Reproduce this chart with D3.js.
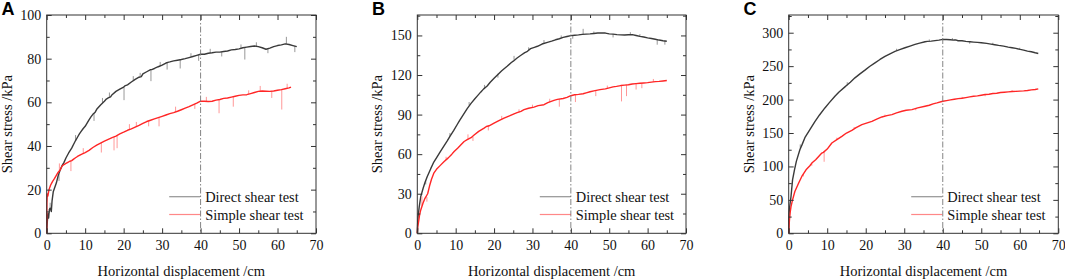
<!DOCTYPE html>
<html><head><meta charset="utf-8">
<script src="https://cdn.jsdelivr.net/npm/d3@7"></script>
<style>body{margin:0;background:#fff} svg{display:block}</style>
</head><body><svg id="c" width="1065" height="279"></svg>
<script>
// ---------- data ----------
const xTicks = [0,10,20,30,40,50,60,70];
const xMinor = [5,15,25,35,45,55,65];
const yTicksA = [0,20,40,60,80,100];
const yTicksB = [0,30,60,90,120,150];
const yTicksC = [0,50,100,150,200,250,300];
const seriesNames = ["Direct shear test","Simple shear test"];
const panelLabels = ["A","B","C"];
const markerX = 40;
const xLabel = "Horizontal displacement /cm";
const yLabel = "Shear stress /kPa";

// main curves: [displacement, stress]
const directA = [[0,0],[0.15,5],[0.3,9],[0.5,7],[0.7,11],[0.9,11.5],[1.2,10],[1.4,15],[1.7,19],[2,20.5],[2.5,23],[3,26.5],[3.5,29],[4,31],[4.5,32.5],[5,34.5],[5.7,36.8],[6.5,39],[7,40.8],[7.5,42.5],[8,44],[8.5,45.5],[9,46.8],[9.5,48],[10,49],[10.5,50.5],[11,52],[11.5,53.3],[12,54.5],[12.6,55.5],[13,56.8],[14,58.8],[15,60.5],[15.5,61.5],[16,62],[16.6,62.5],[17,63.5],[18,65],[19,66],[20,67],[20.3,67.5],[21,68],[22,69.3],[23,70.5],[24,71.5],[24.6,71.8],[25,73],[26,74],[27,75],[27.3,75],[28,75.5],[29,76.3],[30,77],[31,78],[31.5,78.3],[32,78.5],[33,79],[34,79.3],[35,79.6],[36,80],[37,80.5],[38,81],[39,81.5],[40,82],[41,82],[42,82.5],[43,82.7],[44,83],[45,83],[46,83.3],[47,83.5],[48,84],[49,84.2],[50,84.5],[51,85],[52,85.3],[53,85.6],[54,85.8],[55,85.5],[56,85],[57,84.3],[58,84.8],[59,85.5],[60,86],[61,86.3],[62,86.8],[63,86.5],[64,86],[65,85.5]];
const simpleA = [[0,0],[0.05,14],[0.15,18],[0.3,17],[0.6,20],[1,22],[1.5,23.7],[2,25],[2.5,26.5],[3,28],[3.5,29],[4,30.8],[4.5,31.5],[5,32],[5.5,32.5],[6,33],[6.5,33.3],[7,34],[7.5,34.6],[8,35.2],[9,36.2],[10,37],[11,38],[12,39.3],[13,40.4],[14,41.3],[15,42.2],[16,43],[17,43.8],[18,44.5],[19,45.5],[20,46.3],[21,47.2],[22,47.8],[23,48.6],[24,49.4],[25,50.3],[26,51.2],[27,51.8],[28,52.4],[29,53],[30,53.6],[31,54.2],[32,54.8],[33,55.3],[34,55.9],[35,56.6],[36,57.3],[37,58],[38,58.8],[39,59.6],[40,60.5],[41,60.5],[42,60.4],[43,60.5],[44,61],[45,61.3],[46,61.8],[47,62],[48,62.4],[49,62.8],[50,63.2],[51,63.4],[52,63.5],[53,64],[54,64.5],[55,65],[56,65.2],[57,65.1],[58,65],[59,65.2],[60,65.5],[61,65.8],[62,66.2],[63,66.6],[63.5,67]];
const directB = [[0,0],[0.1,8],[0.2,12.7],[0.5,20],[0.9,27.8],[1.5,34],[2,38.5],[2.6,43],[3.5,49],[4.3,54],[5.2,58.2],[6,62],[7,66.5],[7.8,70],[8.5,73.5],[9.5,78],[10.4,82.5],[11,85.5],[12,90],[13,94.5],[14,98.5],[15,102],[15.6,104],[16.5,107],[17.3,109.5],[18.2,111.7],[19,114.5],[20,117.5],[20.8,119.8],[22,123.2],[23.4,126.6],[24.5,129.5],[25,130.5],[26,132.9],[27,135],[28,137],[28.7,138],[29.5,140],[30.5,141],[31.3,141.8],[32.5,143.5],[33.9,144.8],[35,145.7],[36,146.7],[37,147.5],[38,148.5],[39,149.2],[40,149.9],[41,150.2],[42,150.4],[43,150.8],[44,151],[45,151.2],[46,151.5],[47,151.8],[48,151.9],[49,151.8],[50,151.2],[51,151],[52,150.6],[53,150.4],[54,150.3],[55,150.5],[56,150.6],[57,150],[58,149.3],[59,148.8],[60,148.2],[61,147.7],[62,147.1],[63,146.5],[64,146],[65,145.6]];
const simpleB = [[0,0],[0.1,5],[0.3,8],[0.6,14],[0.9,17.7],[1.5,23],[2,26.5],[2.7,30],[3.2,36],[3.7,41],[4.3,45.6],[5,48.5],[6,51.5],[7,54.4],[8,57],[9,60],[9.6,62],[10.5,64.5],[11,66],[11.5,67.5],[12.2,69.6],[13,71],[14,72.5],[14.8,74.5],[16,77.3],[17.4,79.7],[18,81],[18.7,81.5],[20,83.5],[21,85],[22.6,87.3],[24,89],[25.2,90.6],[26,91.5],[27,92.5],[27.8,93.7],[29,94.8],[30.4,95.7],[31.5,96.8],[33,97.5],[34,99],[35.6,100.8],[36.5,101.5],[38,102.2],[39,103],[40,104.3],[41,105],[42,105.3],[43.2,105.8],[44,106.5],[45,107.3],[46,108],[47.6,108.9],[49,109.5],[50,110.3],[51,111],[51.9,111.4],[53,112],[54,112.3],[55,112.6],[56,113.2],[57,113.5],[58,113.8],[59,114],[60,114.2],[61,114.6],[62,115],[63,115.2],[64,115.5],[65,115.8]];
const directC = [[0,0],[0.05,20],[0.1,30],[0.3,42],[0.6,55],[1,80],[1.5,95],[2,108],[2.9,125],[3.5,133],[4.2,143],[5.5,155],[6.8,167],[8,177],[9.4,187.5],[10.5,195],[12,205],[13,211],[14.6,219],[15,221],[16,226],[17.2,232.5],[18.5,238.5],[19.8,244],[21,249.5],[22.4,255],[23.7,260],[25,264.5],[26.3,268.5],[27.6,272],[29,275],[30.2,277.5],[31.5,280],[32.8,282.5],[34,284.5],[35.4,286.5],[36,287],[37,287.5],[38,288.2],[39,289],[40,290],[41,289.8],[42,289.5],[42.8,289],[43.5,289],[44,288],[45,288],[46,287],[47.1,286.5],[48,286],[49,285.5],[50,285],[51.4,284],[52.5,283],[53.5,282],[54.5,281],[55.8,280],[57,278.5],[58,277.5],[59,276.5],[60.1,275],[61,274],[62,272.5],[63,271.5],[64,270],[64.8,269]];
const simpleC = [[0,0],[0.1,12],[0.2,20],[0.4,32],[0.6,40],[1,50],[1.6,62.5],[2.5,74],[3.4,85],[4.5,95],[5.5,101],[6,105],[7,110],[8.6,120],[9,121],[10,126],[11.2,135],[12.5,140],[13.8,145],[15,150],[16.4,154],[17.5,158],[19,162.5],[20,164.5],[21.6,167.5],[23,171],[24.2,174],[25.5,176],[26.8,177.5],[28,180],[29.4,182.5],[30.5,184],[32,185],[33.5,187.5],[35.4,190],[36.5,191.5],[37.5,193.5],[38.5,195],[40,197.5],[41,198.5],[42,199.5],[43,200.5],[44,201.5],[45,202],[46,203],[47,204],[48,205],[49,205.5],[50,206.5],[51,207.5],[52,208],[53,209],[54,209.5],[55,210.5],[56,211],[57,211.5],[58,212],[59,212.3],[60,212.7],[61,213],[62,213.5],[63,214.5],[64,215],[64.8,216]];

// noise spikes: [displacement, curve value, spike tip]
const spikesDirectA = [[0.9,11,14],[3.2,27,24],[7.5,42.5,45],[12.3,55,51.5],[14.5,59.6,62],[16.3,62.2,64.5],[20.1,67.1,61],[22.5,70,72],[24.3,71.9,73.5],[27.1,75.1,69.7],[29.5,76.7,78.5],[31.3,78.1,75],[34.7,79.5,75.5],[37.5,80.8,82.5],[39.5,81.8,79],[42.5,82.6,84.5],[45.5,83.1,81],[50.5,84.7,86.5],[51.5,85.1,79.6],[54.5,85.7,87.5],[57.5,84.5,82.5],[62.3,86.7,90],[64.5,85.8,83]];
const spikesSimpleA = [[3.3,28.5,32],[6.3,33.1,28.5],[9.5,36.6,39],[14.2,41.5,37],[17.5,44.2,38],[18.3,44.6,39],[21.5,47.5,50],[23.3,48.8,51],[26.5,51.5,49],[29.2,53.1,49],[33.5,55.6,58],[38.5,59.2,57],[41.5,60.5,62.5],[44.8,61.2,55],[48.5,62.6,58],[52.5,63.7,65.5],[55.5,65.1,67.5],[58.5,65.1,62],[61.1,65.8,56.7],[62.5,66.4,68.5]];
const spikesDirectB = [[2.2,40,37],[8.5,73.5,76],[13.5,97,99.5],[17.5,110,112.5],[21,121,118],[25.2,131.5,134.5],[29,139,141],[33,144,146.5],[37.5,148,150],[40.5,150,147.5],[43.2,151,155],[46,151.5,153],[51,151,148.5],[55.5,150.5,152.5],[58,149.3,151],[62.5,147,143],[64.5,146,143]];
const spikesSimpleB = [[1.2,21,28],[2.5,27.5,24],[7.5,55.5,58],[13.2,71,75],[14.5,73,70],[18.5,81.5,78],[22,86.5,89],[26.5,91.6,94],[30,95.5,97.5],[34.5,99.5,102],[37,101.7,96],[41.2,105,99.5],[46.5,108.2,104],[49.5,109.8,112],[53.2,112,100],[54.5,112.3,104],[57,113.5,109],[58.5,113.8,110],[61.5,114.8,117]];
const spikesDirectC = [[3,127,133],[15.2,221,226],[28,273.5,276],[36.5,287,290],[42.5,289,292],[47,286.5,283.5],[53,282.5,285],[60,275,277.5]];
const spikesSimpleC = [[3.8,89,85],[6,105,101],[9.2,121.5,107],[12.5,140,143],[17,156.5,159],[25,175.5,177.5],[33,187,184],[45,202,204],[51,207.5,205],[58,212,214]];

// ---------- layout ----------
const svg = d3.select("#c");
const plotTop = 15, plotBottom = 233.3;
const serif = "'Liberation Serif','Times New Roman',serif";
const panels = [
  {label: panelLabels[0], left: 46.7, right: 316, yMax: 100, yTicks: yTicksA, series: [directA, simpleA], spikes: [spikesDirectA, spikesSimpleA]},
  {label: panelLabels[1], left: 417.3, right: 686, yMax: 165.5, yTicks: yTicksB, series: [directB, simpleB], spikes: [spikesDirectB, spikesSimpleB]},
  {label: panelLabels[2], left: 788.7, right: 1058.3, yMax: 326.5, yTicks: yTicksC, series: [directC, simpleC], spikes: [spikesDirectC, spikesSimpleC]}
];
const colors = ["#3a3a3a", "#ff2626"];
const spikeColors = ["#8c8c8c", "#ff8c8c"];

panels.forEach(p => {
  const x = d3.scaleLinear().domain([0, 70]).range([p.left, p.right]);
  const y = d3.scaleLinear().domain([0, p.yMax]).range([plotBottom, plotTop]);
  const step = p.yTicks[1] - p.yTicks[0];
  const yMinor = p.yTicks.map(t => t + step / 2).filter(t => t < p.yMax);
  const g = svg.append("g");

  const line = d3.line().x(d => x(d[0])).y(d => y(d[1]));
  p.series.forEach((s, i) => {
    g.append("g").selectAll("line").data(p.spikes[i]).join("line")
      .attr("x1", d => x(d[0])).attr("x2", d => x(d[0]))
      .attr("y1", d => y(d[1])).attr("y2", d => y(d[2]))
      .attr("stroke", spikeColors[i]).attr("stroke-width", 0.9);
    g.append("path").datum(s).attr("d", line).attr("fill", "none")
      .attr("stroke", colors[i]).attr("stroke-width", 1.4).attr("stroke-linejoin", "round");
  });

  g.append("line").attr("x1", x(markerX)).attr("x2", x(markerX)).attr("y1", plotTop).attr("y2", plotBottom)
    .attr("stroke", "#777").attr("stroke-width", 0.9).attr("stroke-dasharray", "6,2,1.5,2");

  const styleAxis = sel => {
    sel.select(".domain").remove();
    sel.selectAll("line").attr("stroke", "#333");
    sel.selectAll("text").attr("font-family", serif).attr("font-size", 14).attr("fill", "#111");
  };
  g.append("g").attr("transform", `translate(0,${plotBottom})`)
    .call(d3.axisBottom(x).tickValues(xTicks).tickSize(-5).tickPadding(6.7).tickFormat(d3.format("d"))).call(styleAxis);
  g.append("g").attr("transform", `translate(0,${plotBottom})`)
    .call(d3.axisBottom(x).tickValues(xMinor).tickSize(-3).tickFormat("")).call(styleAxis);
  g.append("g").attr("transform", `translate(0,${plotTop})`)
    .call(d3.axisTop(x).tickValues(xTicks).tickSize(-5).tickFormat("")).call(styleAxis);
  g.append("g").attr("transform", `translate(0,${plotTop})`)
    .call(d3.axisTop(x).tickValues(xMinor).tickSize(-3).tickFormat("")).call(styleAxis);
  g.append("g").attr("transform", `translate(${p.left},0)`)
    .call(d3.axisLeft(y).tickValues(p.yTicks).tickSize(-5).tickPadding(5.5).tickFormat(d3.format("d"))).call(styleAxis);
  g.append("g").attr("transform", `translate(${p.left},0)`)
    .call(d3.axisLeft(y).tickValues(yMinor).tickSize(-3).tickFormat("")).call(styleAxis);
  g.append("g").attr("transform", `translate(${p.right},0)`)
    .call(d3.axisRight(y).tickValues(p.yTicks).tickSize(-5).tickFormat("")).call(styleAxis);
  g.append("g").attr("transform", `translate(${p.right},0)`)
    .call(d3.axisRight(y).tickValues(yMinor).tickSize(-3).tickFormat("")).call(styleAxis);

  g.append("rect").attr("x", p.left).attr("y", plotTop).attr("width", p.right - p.left).attr("height", plotBottom - plotTop)
    .attr("fill", "none").attr("stroke", "#333").attr("stroke-width", 1);

  const lx = p.left + 122.5, ly = [196.7, 214.5];
  seriesNames.forEach((name, i) => {
    g.append("line").attr("x1", lx).attr("x2", lx + 31).attr("y1", ly[i]).attr("y2", ly[i])
      .attr("stroke", colors[i]).attr("stroke-opacity", 0.55).attr("stroke-width", 1.2);
    g.append("text").attr("x", lx + 36).attr("y", ly[i] + 5.3).text(name)
      .attr("font-family", serif).attr("font-size", 14.4).attr("fill", "#111");
  });

  g.append("text").attr("x", (p.left + p.right) / 2).attr("y", 276).attr("text-anchor", "middle")
    .attr("font-family", serif).attr("font-size", 14.5).attr("fill", "#111").text(xLabel);
  g.append("text").attr("transform", `translate(${p.left - 35},${(plotTop + plotBottom) / 2}) rotate(-90)`)
    .attr("text-anchor", "middle").attr("font-family", serif).attr("font-size", 14.5).attr("fill", "#111").text(yLabel);
  g.append("text").attr("x", p.left - 45.3).attr("y", 15).text(p.label)
    .attr("font-family", "'Liberation Sans',Arial,sans-serif").attr("font-weight", "bold").attr("font-size", 18).attr("fill", "#000");
});
</script></body></html>
